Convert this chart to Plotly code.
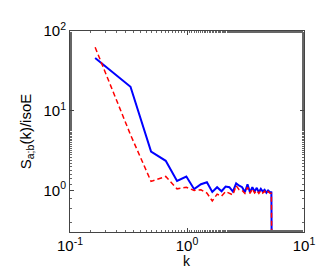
import plotly.graph_objects as go

k = [0.164, 0.329, 0.493, 0.658, 0.822, 0.987, 1.151, 1.316, 1.480, 1.645,
     1.809, 1.974, 2.138, 2.303, 2.467, 2.632, 2.796, 2.961, 3.125, 3.290,
     3.454, 3.619, 3.783, 3.948, 4.112, 4.277, 4.441, 4.606, 4.770, 4.935,
     5.099, 5.264, 5.40]
s_blue = [46, 20, 3.07, 2.36, 1.32, 1.5, 1.04, 1.2, 1.27, 0.96,
          1.1, 0.98, 1.12, 1.1, 0.97, 1.23, 1.15, 1.1, 0.95, 1.2,
          0.95, 1.1, 0.97, 1.08, 0.95, 1.05, 0.97, 1.02, 0.94, 1.0,
          0.96, 0.95, 0.001]
s_red = [62.5, 5.0, 1.3, 1.5, 1.05, 1.1, 1.0, 1.02, 0.93, 0.74,
         0.9, 0.85, 0.97, 0.92, 0.88, 1.15, 1.02, 1.0, 0.92, 1.1,
         0.92, 1.05, 0.93, 1.0, 0.92, 1.0, 0.93, 0.98, 0.92, 0.97,
         0.93, 0.92, 0.001]

x_ticks = [0.1, 1, 10]
x_ticktext = ["10<sup>-1</sup>", "10<sup>0</sup>", "10<sup>1</sup>"]
y_ticks = [1, 10, 100]
y_ticktext = ["10<sup>0</sup>", "10<sup>1</sup>", "10<sup>2</sup>"]

fig = go.Figure()
fig.add_trace(go.Scatter(x=k, y=s_blue, mode="lines",
                         line=dict(color="#0000ff", width=2)))
fig.add_trace(go.Scatter(x=k, y=s_red, mode="lines",
                         line=dict(color="#ff0000", width=1.5, dash="5px,3px")))

axis_common = dict(showgrid=False, zeroline=False, showline=True, mirror="ticks",
                   linecolor="#444", linewidth=1, ticks="inside", ticklen=4,
                   tickcolor="#444",
                   minor=dict(ticks="inside", ticklen=2, tickcolor="#666", showgrid=False),
                   tickfont=dict(size=15, color="black"))

fig.update_xaxes(type="log", range=[-1, 1], tickvals=x_ticks, ticktext=x_ticktext,
                 **axis_common)
fig.update_yaxes(type="log", range=[-0.52, 2], tickvals=y_ticks, ticktext=y_ticktext,
                 title=dict(text="S<sub>a;b</sub>(k)/isoE", font=dict(size=15, color="black"), standoff=8),
                 **axis_common)

fig.add_annotation(text="k", xref="x domain", yref="paper", x=0.5, y=-0.145,
                   xanchor="center", yanchor="middle", showarrow=False,
                   font=dict(size=14, color="black"))

fig.update_layout(width=327, height=268, showlegend=False,
                  margin=dict(l=62, r=31, t=18, b=44),
                  paper_bgcolor="white", plot_bgcolor="white",
                  font=dict(family="Liberation Sans, Arial, sans-serif", color="black"))

fig.write_html("out.html")
